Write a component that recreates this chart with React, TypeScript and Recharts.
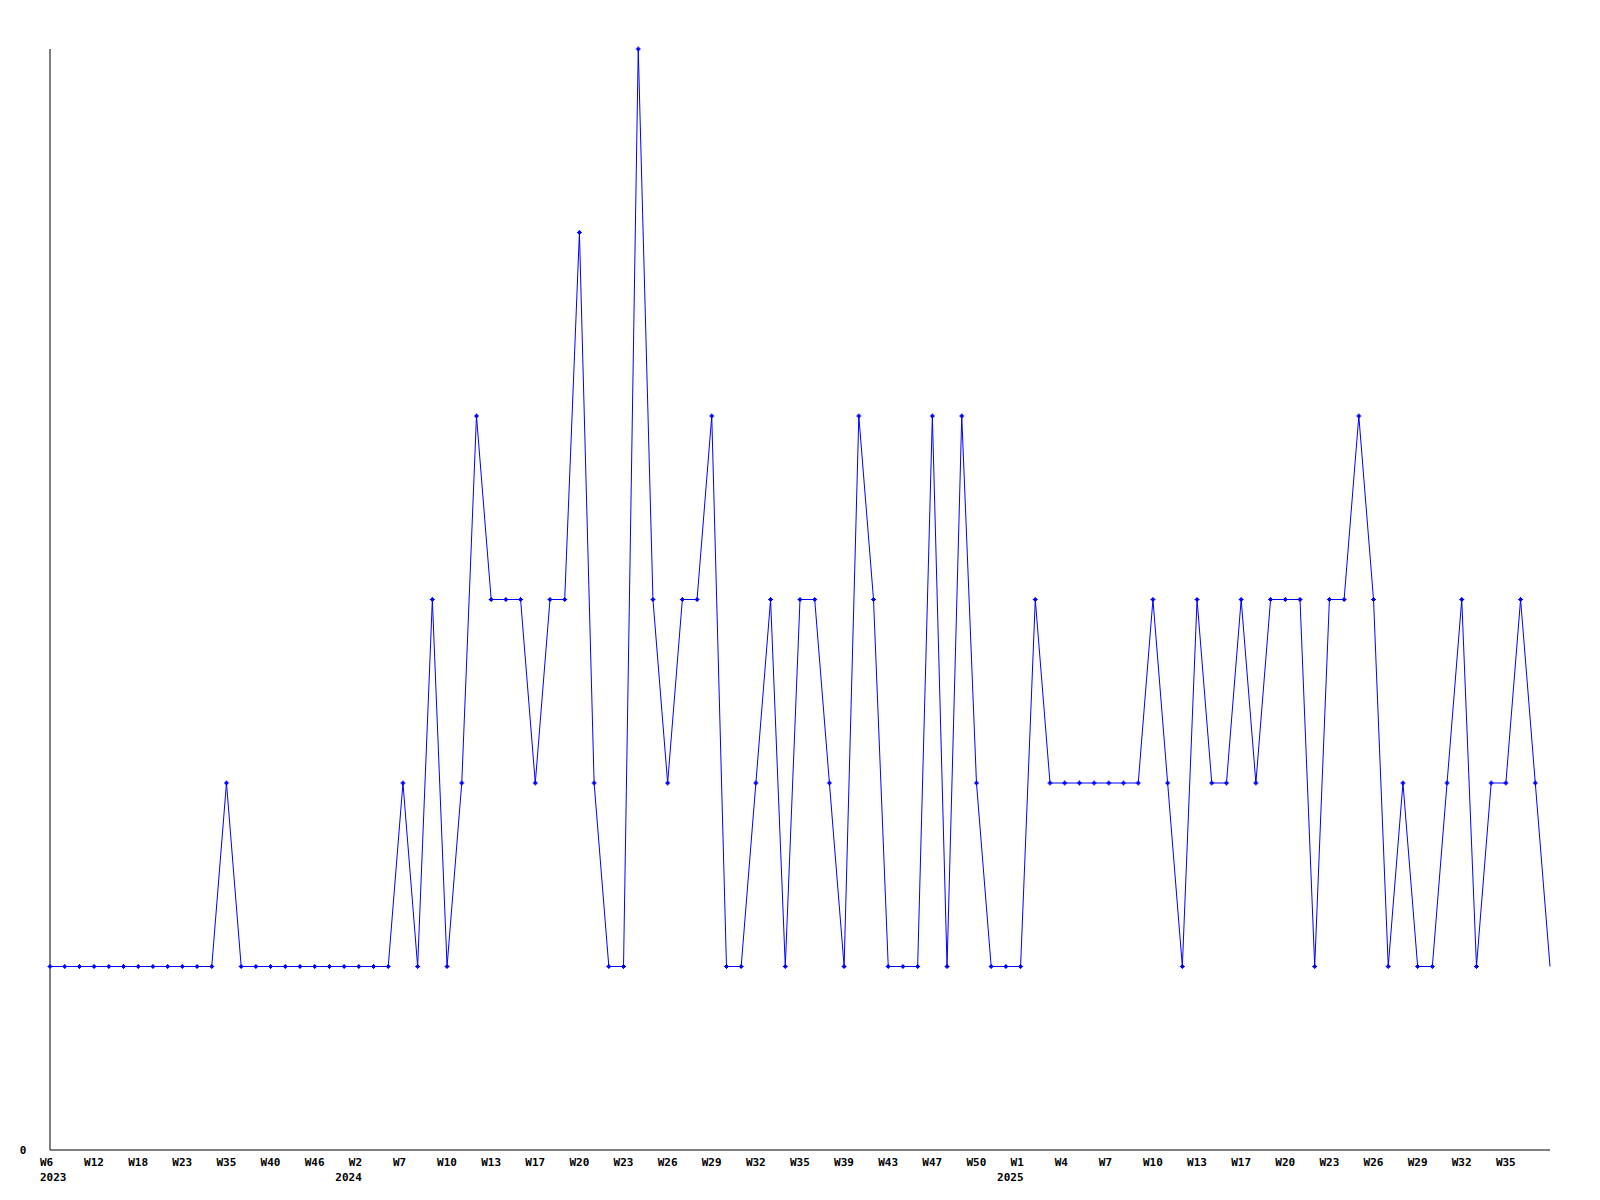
import { LineChart, Line, XAxis, YAxis } from "recharts";

// weekly counts, one per point (oldest first)
const counts = [
  1, 1, 1, 1, 1, 1, 1, 1, 1, 1, 1, 1, 2, 1, 1, 1, 1, 1, 1, 1, 1, 1, 1, 1, 2,
  1, 3, 1, 2, 4, 3, 3, 3, 2, 3, 3, 5, 2, 1, 1, 6, 3, 2, 3, 3, 4, 1, 1, 2, 3,
  1, 3, 3, 2, 1, 4, 3, 1, 1, 1, 4, 1, 4, 2, 1, 1, 1, 3, 2, 2, 2, 2, 2, 2, 2,
  3, 2, 1, 3, 2, 2, 3, 2, 3, 3, 3, 1, 3, 3, 4, 3, 1, 2, 1, 1, 2, 3, 1, 2, 2,
  3, 2, 1,
];

// a label on every third point
const weekLabels = [
  "W6", "W12", "W18", "W23", "W35", "W40", "W46", "W2", "W7", "W10", "W13",
  "W17", "W20", "W23", "W26", "W29", "W32", "W35", "W39", "W43", "W47", "W50",
  "W1", "W4", "W7", "W10", "W13", "W17", "W20", "W23", "W26", "W29", "W32",
  "W35",
];
const yearLabels: Record<number, string> = { 0: "2023", 7: "2024", 22: "2025" };

const data = counts.map((v, i) => ({ idx: i, count: v }));
const ticks = weekLabels.map((_, i) => i * 3);

const FONT = "'DejaVu Sans Mono', monospace";

function WeekTick(props: any) {
  const { x, y, payload } = props;
  const n = payload.value / 3;
  const year = yearLabels[n];
  // year sits under the end of the week label, but not past the left edge
  const yearX = Math.max(40, x + 3 - 26.5);
  return (
    <g>
      <text x={x - 10} y={y + 8} fontFamily={FONT} fontSize={11} fontWeight="bold" fill="#000">
        {weekLabels[n]}
      </text>
      {year && (
        <text x={yearX} y={y + 23} fontFamily={FONT} fontSize={11} fontWeight="bold" fill="#000">
          {year}
        </text>
      )}
    </g>
  );
}

function ZeroTick(props: any) {
  const { y, payload } = props;
  return (
    <text x={23} y={y + 4} textAnchor="middle" fontFamily={FONT} fontSize={11} fontWeight="bold" fill="#000">
      {payload.value}
    </text>
  );
}

function Marker(props: any) {
  const { cx, cy, index } = props;
  if (index === counts.length - 1) return <g key={index} />;
  return (
    <g key={index}>
      <rect x={cx - 1.5} y={cy - 1.5} width={3} height={3} fill="#0000ff" />
      <path d={`M${cx - 2.5},${cy}h5M${cx},${cy - 2.5}v5`} stroke="#0000ff" strokeWidth={1} />
    </g>
  );
}

export default function App() {
  return (
    <div style={{ position: "absolute", left: 0, top: 0, background: "#fff" }}>
      <LineChart width={1600} height={1200} data={data} margin={{ top: 49, right: 50, left: 0, bottom: 0 }}>
        <XAxis
          dataKey="idx"
          type="number"
          domain={[0, counts.length - 1]}
          ticks={ticks}
          interval={0}
          height={50}
          tickLine={false}
          tick={<WeekTick />}
          axisLine={{ stroke: "#000", strokeWidth: 1 }}
        />
        <YAxis
          type="number"
          domain={[0, 6]}
          ticks={[0]}
          width={50}
          tickLine={false}
          tick={<ZeroTick />}
          axisLine={{ stroke: "#000", strokeWidth: 1 }}
        />
        <Line
          type="linear"
          dataKey="count"
          stroke="#0000ff"
          strokeWidth={1}
          dot={<Marker />}
          activeDot={false}
          isAnimationActive={false}
        />
      </LineChart>
    </div>
  );
}
